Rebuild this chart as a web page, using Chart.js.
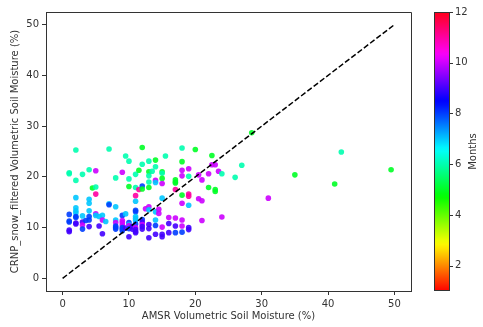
<!DOCTYPE html>
<html>
<head>
<meta charset="utf-8">
<script src="https://cdn.jsdelivr.net/npm/chart.js@4"></script>
<style>body{margin:0;background:#fff}</style>
</head>
<body>
<canvas id="c" width="483" height="327"></canvas>
<script>
// AMSR (x), CRNP snow filtered (y), month of each sample
const amsr = [1,1,1,1,1,1,1, 2,2,2,2,2,2,2,2,2,2, 3,3,3,3,3, 3.5, 4,4,4,4,4,4,4, 4.5,
  5,5,5,5,5, 5.5,5.5, 6,6,6, 6.5, 7,7,7, 8,8,8,8,8,8,8, 9,9,9,9,9,9,9,9, 9.5,9.5,9.5,
  10,10,10,10,10,10,10,10, 10.5,10.5, 11,11,11,11,11,11,11,11,11,11,11,11,11,11, 11.5,11.5,
  12,12,12,12,12,12,12,12,12, 12.5, 13,13,13,13,13,13,13,13,13,13, 13.5, 14,14,14,14,14,14,14,14,
  14.5,14.5, 15,15,15,15,15,15,15,15, 15.5, 16,16,16, 17,17,17,17,17,17,17,
  18,18,18,18,18,18,18,18,18, 19,19,19,19,19,19,19, 20, 20.5,20.5, 21,21,21, 22,22,
  22.5,22.5, 23,23,23, 23.5, 24,24, 26, 27, 28.5, 31, 35, 41, 42, 49.5];
const crnp = [20.8,20.6,12.6,11.3,11.1,9.5,9.2, 25.3,19.3,15.9,13.9,13.3,12.9,12.2,12.0,10.9,10.7,
  20.5,12.3,11.1,10.5,9.7, 11.4, 21.4,15.6,14.8,13.3,12.2,11.5,10.2, 17.8,
  21.2,18.0,16.6,12.7,12.4, 12.2,10.3, 12.4,11.5,8.8, 11.2, 25.5,14.7,14.5,
  19.8,14.1,11.5,11.0,10.3,10.0,9.7, 20.9,12.4,11.4,11.0,10.5,10.0,9.7,9.4, 24.1,12.7,9.9,
  23.1,19.6,18.1,11.0,10.6,10.4,9.8,8.2, 10.2,9.7,
  20.5,17.9,16.3,15.2,13.4,13.1,12.2,11.8,11.4,10.7,10.0,9.6,9.2,9.0, 21.3,17.5,
  25.8,22.5,18.2,17.6,11.6,11.1,10.6,10.2,9.7, 13.7,
  23.1,21.0,20.2,19.0,17.9,14.1,13.5,10.6,9.8,8.0, 21.1, 23.3,22.0,19.3,18.9,13.1,11.5,10.4,8.7,
  13.6,12.8, 21.0,20.7,19.7,18.7,15.8,10.1,8.7,8.2, 24.1, 12.0,10.8,9.0,
  19.4,19.0,18.8,17.5,11.9,10.3,9.0,
  25.7,23.0,21.3,20.2,16.4,14.8,11.5,10.3,9.1, 21.6,20.1,16.6,16.2,14.4,10.0,9.6, 25.4,
  20.4,15.7, 19.4,15.3,11.4, 20.6,17.9, 24.2,22.4, 22.4,17.5,17.1, 21.1, 20.6,12.1,
  19.9, 22.3, 28.7, 15.8, 20.4, 18.6, 24.9, 21.4];
const months = [6,6,8,8,8,9,9, 6,6,7,7,7,7,8,8,9,9, 6,7,9,10,8, 8, 6,7,7,7,8,8,9, 5,
  10,6,11,10,7, 7,9, 7,10,9, 7, 6,7,8, 6,7,7,10,8,8,8, 10,8,10,10,10,8,8,8, 6,7,9,
  6,6,5,8,7,10,8,9, 9,9, 6,6,11,7,8,8,7,7,7,8,10,9,9,9, 5,11,
  5,6,8,5,8,9,10,9,9, 10, 6,5,6,6,5,10,7,9,9,9, 6, 5,6,10,7,7,7,8,9,
  10,10, 5,6,5,10,7,10,9,9, 6, 10,9,9, 5,5,5,11,10,9,8,
  6,5,10,10,5,10,10,10,8, 10,6,11,11,7,9,9, 5, 10,10, 10,10,10, 10,5,
  5,10, 10,5,5, 10, 6,10, 6, 6, 5, 10, 5, 5, 6, 5];
const oneToOne = [0, 50];
const xTicks = [0, 10, 20, 30, 40, 50];
const yTicks = [0, 10, 20, 30, 40, 50];
const monthTicks = [2, 4, 6, 8, 10, 12];

// matplotlib 'hsv' colormap segments
const hsvSeg = {
  r: [[0,1],[0.15873,1],[0.174603,0.96875],[0.333333,0.03125],[0.349206,0],[0.666667,0],[0.68254,0],[0.84127,0.9375],[0.857143,1],[1,1]],
  g: [[0,0],[0.15873,0.9375],[0.174603,1],[0.507937,1],[0.666667,0.0625],[0.68254,0],[1,0]],
  b: [[0,0],[0.333333,0],[0.349206,0.0625],[0.507937,1],[0.52381,1],[0.84127,1],[0.857143,0.9375],[1,0.09375]]
};
function seg(s, t) {
  for (let i = 1; i < s.length; i++) {
    if (t <= s[i][0]) {
      const f = (t - s[i-1][0]) / (s[i][0] - s[i-1][0]);
      return s[i-1][1] + f * (s[i][1] - s[i-1][1]);
    }
  }
  return s[s.length-1][1];
}
function hsvColor(m, a) {
  const t = Math.min(1, Math.max(0, (m - 1) / 11));
  const r = Math.round(seg(hsvSeg.r, t) * 255);
  const g = Math.round(seg(hsvSeg.g, t) * 255);
  const b = Math.round(seg(hsvSeg.b, t) * 255);
  return `rgba(${r},${g},${b},${a})`;
}

const font = { family: 'DejaVu Sans', size: 10 };
const ink = '#333';

const colorbar = {
  id: 'colorbar',
  afterDraw(chart) {
    const { ctx, chartArea: a, scales } = chart;
    const cb = scales.cb;
    ctx.save();
    // top and right spines
    ctx.strokeStyle = ink;
    ctx.lineWidth = 1;
    ctx.beginPath();
    ctx.moveTo(a.left, a.top + 0.5);
    ctx.lineTo(a.right + 0.5, a.top + 0.5);
    ctx.lineTo(a.right + 0.5, a.bottom);
    ctx.stroke();

    const x0 = a.right + 23, w = 15;
    const yTop = cb.getPixelForValue(12), yBot = cb.getPixelForValue(1);
    const grad = ctx.createLinearGradient(0, yBot, 0, yTop);
    for (let i = 0; i <= 66; i++) {
      grad.addColorStop(i / 66, hsvColor(1 + 11 * i / 66, 1));
    }
    ctx.fillStyle = grad;
    ctx.fillRect(x0, yTop, w, yBot - yTop);
    ctx.strokeRect(x0 + 0.5, yTop + 0.5, w, yBot - yTop - 1);

    ctx.beginPath();
    monthTicks.forEach(v => {
      const y = Math.round(cb.getPixelForValue(v)) + 0.5;
      ctx.moveTo(x0 + w, y);
      ctx.lineTo(x0 + w + 4, y);
    });
    ctx.stroke();

    ctx.translate(473, (yTop + yBot) / 2);
    ctx.rotate(-Math.PI / 2);
    ctx.fillStyle = ink;
    ctx.font = '10px "DejaVu Sans"';
    ctx.textAlign = 'center';
    ctx.textBaseline = 'middle';
    ctx.fillText('Months', 0, 0);
    ctx.restore();
  }
};

new Chart(document.getElementById('c'), {
  type: 'scatter',
  data: {
    datasets: [{
      type: 'line',
      data: oneToOne.map(v => ({ x: v, y: v })),
      borderColor: '#000',
      borderWidth: 1.5,
      borderDash: [5.5, 2.4],
      pointRadius: 0,
      order: 0
    }, {
      data: amsr.map((v, i) => ({ x: v, y: crnp[i] })),
      backgroundColor: ctx => hsvColor(months[ctx.dataIndex], 0.9),
      borderWidth: 0,
      pointRadius: 2.8,
      order: 1
    }]
  },
  options: {
    responsive: false,
    animation: false,
    devicePixelRatio: 1,
    layout: { padding: { top: 12, left: 0, right: 0, bottom: 0 } },
    plugins: { legend: { display: false }, tooltip: { enabled: false } },
    scales: {
      x: {
        type: 'linear',
        min: -2.5,
        max: 52.5,
        afterBuildTicks: s => { s.ticks = xTicks.map(v => ({ value: v })); },
        afterFit: s => { s.height = 36; },
        grid: { drawOnChartArea: false, tickLength: 4, color: ink },
        border: { color: ink },
        ticks: { color: ink, font, padding: 3, maxRotation: 0 },
        title: { display: true, text: 'AMSR Volumetric Soil Moisture (%)', color: ink, font, padding: { top: 0, bottom: 5 } }
      },
      y: {
        type: 'linear',
        min: -2.5,
        max: 52.5,
        afterBuildTicks: s => { s.ticks = yTicks.map(v => ({ value: v })); },
        afterFit: s => { s.width = 46; s.paddingTop = 0; s.paddingBottom = 0; },
        grid: { drawOnChartArea: false, tickLength: 4, color: ink },
        border: { color: ink },
        ticks: { color: ink, font, padding: 3 },
        title: { display: true, text: 'CRNP_snow_filtered Volumetric Soil Moisture (%)', color: ink, font, padding: { top: 9, bottom: 0 } }
      },
      cb: {
        type: 'linear',
        position: 'right',
        min: 1,
        max: 12,
        afterBuildTicks: s => { s.ticks = monthTicks.map(v => ({ value: v })); },
        afterFit: s => { s.width = 72; s.paddingTop = 0; s.paddingBottom = 0; },
        grid: { display: false, drawTicks: false },
        border: { display: false },
        ticks: { color: ink, font, padding: 44 }
      }
    }
  },
  plugins: [colorbar]
});
</script>
</body>
</html>
